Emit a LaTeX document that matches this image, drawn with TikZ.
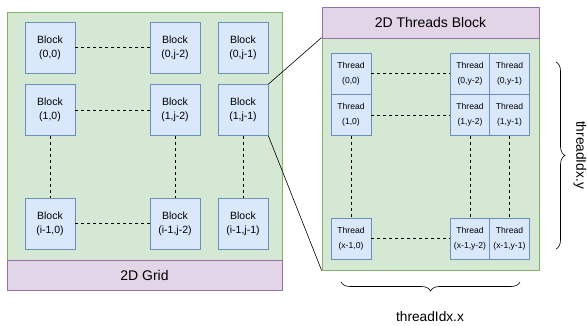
\documentclass[tikz,border=0pt]{standalone}
\usepackage{fontspec}
\setmainfont{Liberation Sans}
\usetikzlibrary{decorations.pathreplacing}

\definecolor{gfill}{HTML}{D5E8D4}
\definecolor{gline}{HTML}{82B366}
\definecolor{bfill}{HTML}{DAE8FC}
\definecolor{bline}{HTML}{6C8EBF}
\definecolor{pfill}{HTML}{E1D5E7}
\definecolor{pline}{HTML}{9673A6}

\tikzset{
  panel/.style={draw=gline, fill=gfill, line width=0.8pt, inner sep=0pt},
  titlebar/.style={draw=pline, fill=pfill, line width=0.8pt, inner sep=0pt,
    font=\fontsize{14}{16}\selectfont},
  blockbox/.style={draw=bline, fill=bfill, line width=0.8pt, inner sep=0pt,
    minimum width=50pt, minimum height=51pt, align=center,
    font=\fontsize{10.5}{14}\selectfont},
  threadbox/.style={draw=bline, fill=bfill, line width=0.8pt, inner sep=0pt,
    minimum width=40pt, minimum height=41pt, align=center,
    font=\fontsize{8.6}{15}\selectfont},
  dots/.style={draw=black, line width=0.8pt, dash pattern=on 3pt off 3pt},
  link/.style={draw=black, line width=0.6pt},
  bracket/.style={draw=black, line width=0.6pt,
    decorate, decoration={brace, amplitude=9pt}},
  axislabel/.style={font=\fontsize{13.7}{15}\selectfont},
}

\begin{document}
\begin{tikzpicture}[x=1pt, y=-1pt]
\useasboundingbox (0,0) rectangle (587,326);

% ---- grid of blocks ----
\node[panel, minimum width=275pt, minimum height=248pt] (grid) at (144.5,136) {};
\node[titlebar, minimum width=275pt, minimum height=30pt] (gridbar) at (144.5,275) {2D Grid};

\node[blockbox] (b00)  at (50,47.5)   {Block\\(0,0)};
\node[blockbox] (b0j2) at (175,47.5)  {Block\\(0,j-2)};
\node[blockbox] (b0j1) at (243,47.5)  {Block\\(0,j-1)};
\node[blockbox] (b10)  at (50,110)    {Block\\(1,0)};
\node[blockbox] (b1j2) at (175,110)   {Block\\(1,j-2)};
\node[blockbox] (b1j1) at (243,110)   {Block\\(1,j-1)};
\node[blockbox] (bi0)  at (50,223.5)  {Block\\(i-1,0)};
\node[blockbox] (bij2) at (175,223.5) {Block\\(i-1,j-2)};
\node[blockbox] (bij1) at (243,223.5) {Block\\(i-1,j-1)};

\draw[dots] (b00.east) -- (b0j2.west);
\draw[dots] (b10.east) -- (b1j2.west);
\draw[dots] (bi0.east) -- (bij2.west);
\draw[dots] (b10.south) -- (bi0.north);
\draw[dots] (b1j2.south) -- (bij2.north);
\draw[dots] (b1j1.south) -- (bij1.north);

% ---- threads inside one block ----
\node[panel, minimum width=217pt, minimum height=232pt] (tpanel) at (430.5,154) {};
\node[titlebar, minimum width=217pt, minimum height=31pt] (tbar) at (430.5,22.5) {2D Threads Block};

\node[threadbox] (t00)  at (351,73.5)    {Thread\\(0,0)};
\node[threadbox] (t0y2) at (470,73.5)    {Thread\\(0,y-2)};
\node[threadbox] (t0y1) at (509.5,73.5)  {Thread\\(0,y-1)};
\node[threadbox] (t10)  at (351,115)     {Thread\\(1,0)};
\node[threadbox] (t1y2) at (470,115)     {Thread\\(1,y-2)};
\node[threadbox] (t1y1) at (509.5,115)   {Thread\\(1,y-1)};
\node[threadbox] (tx0)  at (351,238.5)   {Thread\\(x-1,0)};
\node[threadbox] (txy2) at (470,238.5)   {Thread\\(x-1,y-2)};
\node[threadbox] (txy1) at (509.5,238.5) {Thread\\(x-1,y-1)};

\draw[dots] (t00.east) -- (t0y2.west);
\draw[dots] (t10.east) -- (t1y2.west);
\draw[dots] (tx0.east) -- (txy2.west);
\draw[dots] (t10.south) -- (tx0.north);
\draw[dots] (t1y2.south) -- (txy2.north);
\draw[dots] (t1y1.south) -- (txy1.north);

% ---- zoom lines from block (1,j-1) ----
\draw[link] (b1j1.north east) -- (tpanel.north west);
\draw[link] (b1j1.south east) -- (tpanel.south west);

% ---- index braces ----
\coordinate (ytop) at (556,62);
\coordinate (ybot) at (556,249);
\draw[bracket] (ytop) -- (ybot);
\node[axislabel, rotate=-90] (ylab) at (580,155) {threadIdx.y};

\coordinate (xright) at (520,282);
\coordinate (xleft) at (341,282);
\draw[bracket] (xright) -- (xleft);
\node[axislabel] (xlab) at (430,317) {threadIdx.x};
\end{tikzpicture}
\end{document}
